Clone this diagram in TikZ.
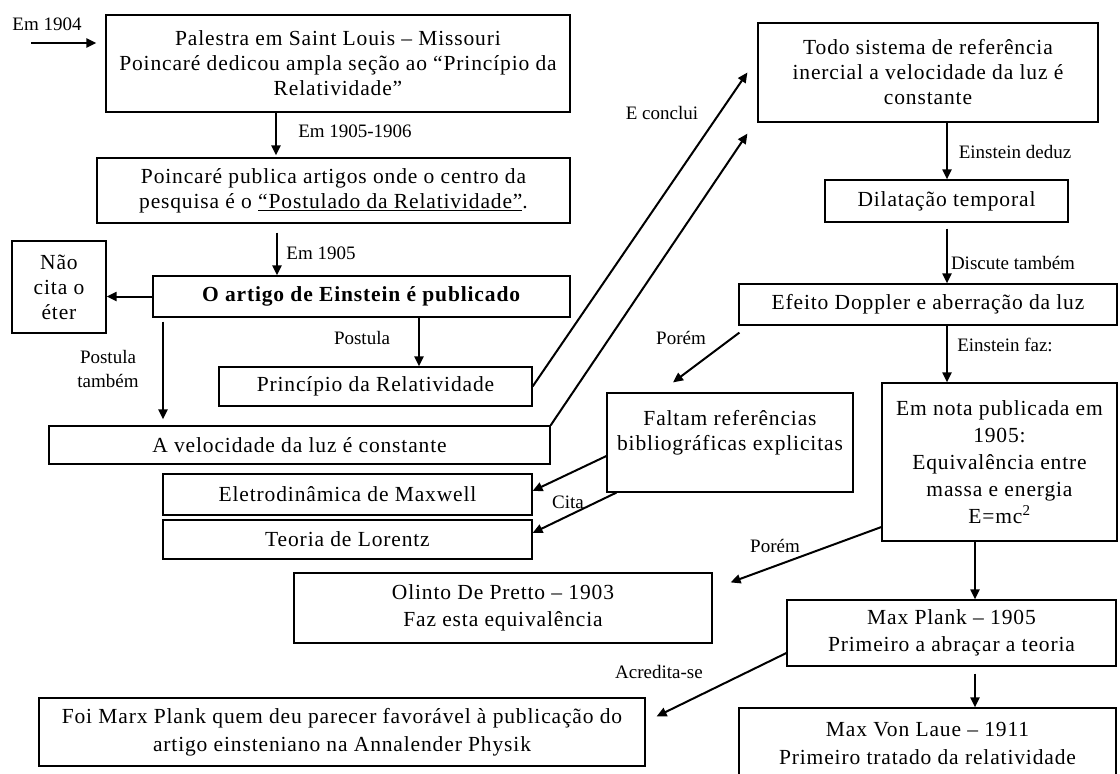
\documentclass[tikz,border=0pt]{standalone}
\usepackage{fontspec}
\setmainfont{Liberation Serif}
\newfontfamily\boxfont{Liberation Serif}[LetterSpace=4]
\usetikzlibrary{arrows.meta}
\tikzset{
  box/.style={draw, line width=1.2pt, inner sep=0pt, align=center, font=\boxfont\fontsize{21.5}{25}\selectfont},
  lbl/.style={inner sep=0pt, align=center, font=\fontsize{19}{24}\selectfont},
  arr/.style={line width=2pt, -{Triangle[length=10pt,width=9pt]}}
}
\begin{document}
\begin{tikzpicture}[x=1pt,y=-1pt]
\useasboundingbox (0,0) rectangle (1120,774);
\clip (0,0) rectangle (1120,774);
% boxes
\node[box, minimum width=464pt, minimum height=97pt] (palestra) at (338,63.5) {Palestra em Saint Louis – Missouri\\Poincaré dedicou ampla seção ao “Princípio da\\Relatividade”};
\node[box, minimum width=473pt, minimum height=65pt] (publica) at (333.5,190.5) {Poincaré publica artigos onde o centro da\\pesquisa é o \underline{“Postulado da Relatividade”}.};
\node[box, minimum width=94pt, minimum height=92pt] (naocita) at (59,287) {Não\\cita o\\éter};
\node[box, minimum width=417pt, minimum height=41pt] (artigo) at (361.5,296.5) {\textbf{O artigo de Einstein é publicado}};
\node[box, minimum width=313pt, minimum height=39pt] (principio) at (375.5,386.5) {Princípio da Relatividade};
\node[box, minimum width=501pt, minimum height=38pt] (velocidade) at (299.5,445) {A velocidade da luz é constante};
\node[box, minimum width=369pt, minimum height=41pt] (maxwell) at (347.5,494.5) {Eletrodinâmica de Maxwell};
\node[box, minimum width=369pt, minimum height=39pt] (lorentz) at (347.5,539.5) {Teoria de Lorentz};
\node[box, minimum width=246pt, minimum height=99pt] (faltam) at (730,442.5) {Faltam referências\\bibliográficas explicitas\\~};
\node[box, minimum width=340pt, minimum height=99pt] (todo) at (928,72.5) {Todo sistema de referência\\inercial a velocidade da luz é\\constante};
\node[box, minimum width=243pt, minimum height=42pt] (dilatacao) at (946.5,201) {Dilatação temporal};
\node[box, minimum width=378pt, minimum height=41pt] (efeito) at (928,304.5) {Efeito Doppler e aberração da luz};
\node[box, minimum width=235pt, minimum height=158pt, font=\boxfont\fontsize{21.5}{27}\selectfont] (emnota) at (999.5,462) {Em nota publicada em\\1905:\\Equivalência entre\\massa e energia\\E=mc\textsuperscript{2}};
\node[box, minimum width=418pt, minimum height=70pt, font=\boxfont\fontsize{21.5}{27}\selectfont] (olinto) at (503,608) {Olinto De Pretto – 1903\\Faz esta equivalência};
\node[box, minimum width=329pt, minimum height=66pt, font=\boxfont\fontsize{21.5}{27}\selectfont] (plank) at (951.5,633) {Max Plank – 1905\\Primeiro a abraçar a teoria};
\node[box, minimum width=377pt, minimum height=70pt, font=\boxfont\fontsize{21.5}{28}\selectfont] (laue) at (927.5,743) {Max Von Laue – 1911\\Primeiro tratado da relatividade};
\node[box, minimum width=606pt, minimum height=68pt, font=\boxfont\fontsize{21.5}{28}\selectfont] (foi) at (342,732) {Foi Marx Plank quem deu parecer favorável à publicação do\\artigo einsteniano na Annalender Physik};
% labels
\node[lbl] (l1904) at (47,24) {Em 1904};
\node[lbl] (l1905a) at (355,131) {Em 1905-1906};
\node[lbl] (l1905b) at (321,253) {Em 1905};
\node[lbl] (lpost) at (362,338) {Postula};
\node[lbl] (lpost2) at (108,369) {Postula\\também};
\node[lbl] (lconc) at (662,113) {E conclui};
\node[lbl] (lded) at (1015,152) {Einstein deduz};
\node[lbl] (ldisc) at (1013,263) {Discute também};
\node[lbl] (lfaz) at (1005,345) {Einstein faz:};
\node[lbl] (lporem1) at (681,338) {Porém};
\node[lbl] (lcita) at (568,502) {Cita};
\node[lbl] (lporem2) at (775,546) {Porém};
\node[lbl] (lacred) at (659,672) {Acredita-se};
% connectors
\coordinate (s1904) at (31,43);
\draw[arr, shorten >=9pt] (s1904) -- (palestra.west |- s1904);
\draw[arr, shorten >=2pt] (palestra.south -| 276,0) -- (publica.north -| 276,0);
\draw[arr, shorten <=9pt] (publica.south -| 277,0) -- (artigo.north -| 277,0);
\draw[arr] (artigo.west) -- (naocita.east |- artigo.west);
\draw[arr] (artigo.south -| 419,0) -- (principio.north -| 419,0);
\draw[arr, shorten <=4pt, shorten >=6pt] (artigo.south -| 163,0) -- (velocidade.north -| 163,0);
\draw[arr] (principio.east) -- ([xshift=-10pt]todo.west);
\draw[arr] (velocidade.north east) -- ([xshift=-10pt,yshift=-11pt]todo.south west);
\draw[arr] (todo.south -| 947,0) -- (dilatacao.north -| 947,0);
\draw[arr, shorten <=6pt] (dilatacao.south -| 947,0) -- (efeito.north -| 947,0);
\draw[arr] (efeito.south -| 947,0) -- (emnota.north -| 947,0);
\draw[arr] ([xshift=1pt,yshift=-7pt]efeito.south west) -- ([xshift=-57pt,yshift=10pt]faltam.north);
\draw[arr] (faltam.west |- 0,456) -- (maxwell.east |- 0,491);
\draw[arr] ([xshift=10pt]faltam.south west) -- (lorentz.east |- 0,533);
\draw[arr] (emnota.west |- 0,527) -- ([xshift=18pt,yshift=-10pt]olinto.north east);
\draw[arr] (emnota.south -| 975,0) -- (plank.north -| 975,0);
\draw[arr] (plank.west |- 0,653) -- ([xshift=11pt,yshift=-19pt]foi.north east);
\draw[arr, shorten <=7pt] (plank.south -| 975,0) -- (laue.north -| 975,0);
\end{tikzpicture}
\end{document}
